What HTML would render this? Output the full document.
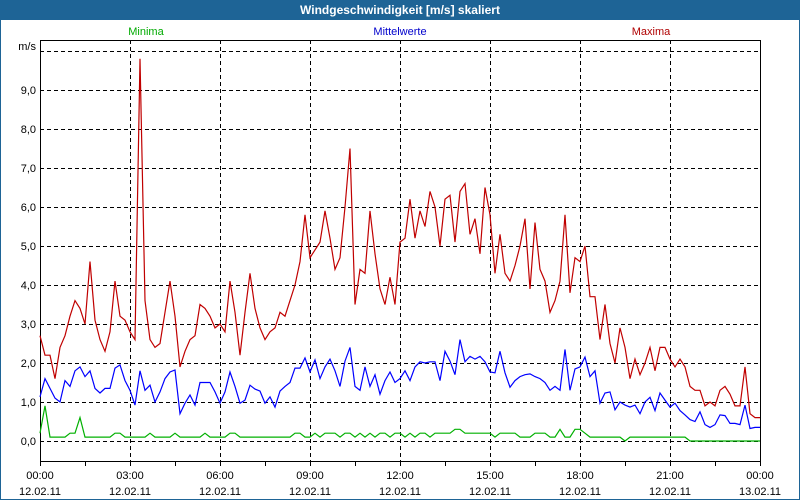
<!DOCTYPE html>
<html><head><meta charset="utf-8"><style>
body{margin:0;width:800px;height:500px;overflow:hidden;background:#fff;font-family:"Liberation Sans",sans-serif}
#frame{position:absolute;left:0;top:0;width:798px;height:498px;border:1px solid #1e6496;}
#title{position:absolute;left:0;top:0;width:800px;height:20px;background:#1e6496;color:#fff;font-weight:bold;font-size:12px;text-align:center;line-height:20px}
svg{position:absolute;left:0;top:0}
</style></head><body>
<div id="frame"></div>
<div id="title">Windgeschwindigkeit [m/s] skaliert</div>
<svg id="chart" width="800" height="500"></svg>
<script>
const yTicks=[0,1,2,3,4,5,6,7,8,9,10];
const yLabels=["0,0","1,0","2,0","3,0","4,0","5,0","6,0","7,0","8,0","9,0",""];
const xTimes=["00:00","03:00","06:00","09:00","12:00","15:00","18:00","21:00","00:00"];
const xDates=["12.02.11","12.02.11","12.02.11","12.02.11","12.02.11","12.02.11","12.02.11","12.02.11","13.02.11"];
const maxima=[2.7,2.2,2.2,1.6,2.4,2.7,3.2,3.6,3.4,3.0,4.6,3.1,2.6,2.3,2.8,4.1,3.2,3.1,2.8,2.6,9.8,3.6,2.6,2.4,2.5,3.3,4.1,3.2,1.9,2.3,2.6,2.7,3.5,3.4,3.2,2.9,3.0,2.8,4.1,3.3,2.2,3.3,4.3,3.4,2.9,2.6,2.8,2.9,3.3,3.2,3.6,4.0,4.6,5.8,
4.7,4.9,5.1,5.9,5.2,4.4,4.7,6.0,7.5,3.5,4.4,4.3,5.9,4.8,3.9,3.5,4.2,3.5,
5.1,5.2,6.2,5.2,5.9,5.5,6.4,6.0,5.0,6.2,6.3,5.1,6.4,6.6,5.3,5.7,4.8,6.5,
5.8,4.3,5.3,4.3,4.1,4.5,5.0,5.7,3.9,5.6,4.4,4.1,3.3,3.6,4.1,5.8,3.8,4.7,
4.6,5.0,3.7,3.7,2.6,3.5,2.5,2.0,2.9,2.4,1.6,2.1,1.7,2.0,2.4,1.8,2.4,2.4,
2.1,1.9,2.1,1.9,1.4,1.3,1.3,0.9,1.0,0.9,1.3,1.4,1.2,0.9,0.9,1.9,0.7,0.6,0.6];
const mittel=[1.13,1.6,1.35,1.1,1.0,1.55,1.4,1.8,1.9,1.65,1.8,1.35,1.23,1.35,1.35,1.87,1.95,1.55,1.3,0.92,1.8,1.3,1.43,1.0,1.26,1.6,1.77,1.82,0.7,0.97,1.18,0.92,1.5,1.5,1.5,1.26,0.97,1.26,1.77,1.4,0.97,1.05,1.43,1.33,1.28,0.97,1.13,0.87,1.28,1.4,1.5,1.87,1.87,2.13,
1.77,2.08,1.6,1.9,2.1,1.8,1.4,2.05,2.4,1.4,1.3,1.9,1.4,1.7,1.2,1.55,1.77,1.5,
1.6,1.8,1.55,1.9,2.03,2.0,2.03,2.03,1.55,2.3,2.05,1.7,2.6,2.03,2.17,2.1,2.17,2.03,
1.77,1.75,2.3,1.75,1.38,1.55,1.65,1.7,1.72,1.65,1.6,1.5,1.3,1.4,1.3,2.35,1.3,1.85,
1.9,2.15,1.65,1.8,0.97,1.23,1.26,0.8,1.0,0.92,0.87,0.92,0.7,1.0,1.12,0.78,1.23,1.05,
0.87,0.97,0.78,0.67,0.55,0.5,0.75,0.42,0.35,0.42,0.67,0.65,0.45,0.45,0.42,0.92,0.32,0.35,0.35];
const minima=[0.2,0.9,0.1,0.1,0.1,0.1,0.2,0.2,0.6,0.1,0.1,0.1,0.1,0.1,0.1,0.2,0.2,0.1,0.1,0.1,0.1,0.1,0.2,0.1,0.1,0.1,0.1,0.2,0.1,0.1,0.1,0.1,0.1,0.2,0.1,0.1,0.1,0.1,0.2,0.2,0.1,0.1,0.1,0.1,0.1,0.1,0.1,0.1,0.1,0.1,0.1,0.2,0.2,0.1,
0.1,0.2,0.1,0.2,0.2,0.2,0.1,0.2,0.2,0.1,0.2,0.1,0.2,0.1,0.2,0.2,0.1,0.2,
0.2,0.1,0.2,0.1,0.2,0.2,0.1,0.2,0.2,0.2,0.2,0.3,0.3,0.2,0.2,0.2,0.2,0.2,
0.2,0.1,0.2,0.2,0.2,0.2,0.1,0.1,0.1,0.2,0.2,0.2,0.1,0.1,0.3,0.1,0.1,0.3,
0.3,0.2,0.1,0.1,0.1,0.1,0.1,0.1,0.1,0.0,0.1,0.1,0.1,0.1,0.1,0.1,0.1,0.1,
0.1,0.1,0.1,0.1,0.0,0.0,0.0,0.0,0.0,0.0,0.0,0.0,0.0,0.0,0.0,0.0,0.0,0.0,0.0];

const NS="http://www.w3.org/2000/svg";
const svg=document.getElementById('chart');
const L=40,R=760,T=40,B=461,Y0=441,PPU=39;
const N=maxima.length;
const xScale=i=>L+(R-L)*i/(N-1);
const yScale=v=>Y0-v*PPU;
function mk(tag,attrs,parent){const e=document.createElementNS(NS,tag);for(const k in attrs)e.setAttribute(k,attrs[k]);(parent||svg).appendChild(e);return e;}

// grid
yTicks.forEach((v,i)=>{
  const g=mk('line',{x1:L,x2:R,y1:yScale(v)+0.5,y2:yScale(v)+0.5,stroke:'#000','stroke-dasharray':'4,3'});
  
  
  const t=mk('text',{x:36,y:yScale(v)+4,'text-anchor':'end','font-size':'11',fill:'#000'});
  t.textContent=yLabels[i];
  
  
});
xTimes.forEach((lab,i)=>{
  const x=L+(R-L)*i/(xTimes.length-1);
  if(i>0&&i<xTimes.length-1){
    const g=mk('line',{x1:x+0.5,x2:x+0.5,y1:T,y2:B,stroke:'#000','stroke-dasharray':'4,3'});
    
    
  }
  const t1=mk('text',{x:x,y:479,'text-anchor':'middle','font-size':'11',fill:'#000'});
  t1.textContent=lab;
  
  
  const t2=mk('text',{x:x,y:495,'text-anchor':'middle','font-size':'11',fill:'#000'});
  t2.textContent=xDates[i];
  
  
});
for(let k=0;k<=16;k++){
  const x=L+(R-L)*k/16;
  const tk=mk('line',{x1:x+0.5,x2:x+0.5,y1:B,y2:B+5,stroke:'#000'});
  
  
}
// frame
const fr=mk('rect',{x:L+0.5,y:T+0.5,width:R-L,height:B-T,fill:'none',stroke:'#000'});



function series(arr,color,name){
  const pts=arr.map((v,i)=>xScale(i).toFixed(1)+','+yScale(v).toFixed(1)).join(' ');
  const p=mk('polyline',{points:pts,fill:'none',stroke:color,'stroke-width':'1.2'});
  
  
}
series(minima,'#00b000','minima-line');
series(mittel,'#0000ff','mittelwerte-line');
series(maxima,'#c00000','maxima-line');

const legends=[['Minima','#00aa00',146,'legend-minima'],['Mittelwerte','#0000cc',400,'legend-mittelwerte'],['Maxima','#b00000',651,'legend-maxima']];
legends.forEach(l=>{
  const t=mk('text',{x:l[2],y:35,'text-anchor':'middle','font-size':'11',fill:l[1]});
  t.textContent=l[0];
  
  
});
const u=mk('text',{x:36,y:50,'text-anchor':'end','font-size':'11',fill:'#000'});
u.textContent='m/s';


</script>
</body></html>
